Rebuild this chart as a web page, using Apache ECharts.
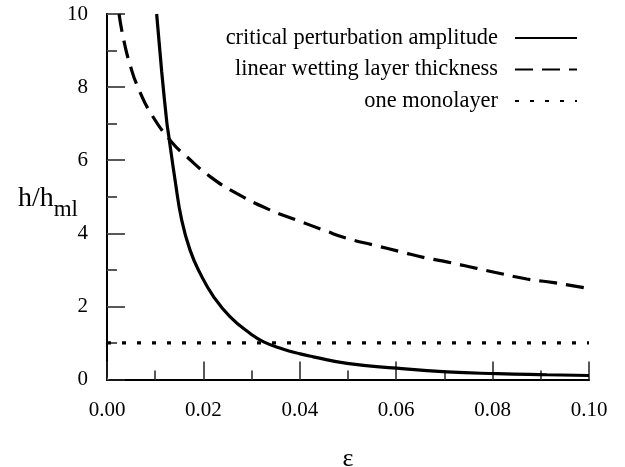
<!DOCTYPE html>
<html>
<head>
<meta charset="utf-8">
<script src="https://cdn.jsdelivr.net/npm/echarts@6/dist/echarts.min.js"></script>
<style>
html,body{margin:0;padding:0;background:#fff;}
#chart{width:625px;height:467px;}
</style>
</head>
<body>
<div id="chart"></div>
<script>
// Critical perturbation amplitude (solid)
const criticalEps = [0.0103, 0.01135, 0.0124, 0.01273, 0.01412, 0.0155, 0.01723, 0.0193, 0.0221, 0.0255, 0.0297, 0.0325, 0.0366, 0.0401, 0.0428, 0.0498, 0.0601, 0.0705, 0.0809, 0.0913, 0.1];
const criticalH   = [10, 8.42, 7.05, 6.74, 5.46, 4.36, 3.54, 2.91, 2.27, 1.72, 1.26, 1.03, 0.83, 0.70, 0.62, 0.44, 0.31, 0.21, 0.16, 0.13, 0.11];
// Linear wetting layer thickness (dashed)
const wettingEps = [0.0025, 0.0034, 0.0048, 0.0065, 0.0093, 0.0134, 0.0165, 0.0214, 0.0269, 0.0338, 0.0394, 0.0449, 0.0498, 0.0553, 0.0608, 0.0664, 0.0705, 0.0767, 0.0816, 0.0871, 0.0927, 0.1];
const wettingH   = [10.0, 9.33, 8.6, 7.97, 7.24, 6.5, 6.1, 5.55, 5.09, 4.64, 4.36, 4.09, 3.86, 3.68, 3.5, 3.32, 3.22, 3.04, 2.9, 2.75, 2.65, 2.49];
// One monolayer (dotted)
const monoEps = [0, 0.1];
const monoH   = [1, 1];

const seriesNames = ['critical perturbation amplitude', 'linear wetting layer thickness', 'one monolayer'];
const xTicks = [0, 0.02, 0.04, 0.06, 0.08, 0.10];
const yTicks = [0, 2, 4, 6, 8, 10];

const zip = (a, b) => a.map((v, i) => [v, b[i]]);
const FONT = '"Liberation Serif", "DejaVu Serif", serif';

const chart = echarts.init(document.getElementById('chart'));
chart.setOption({
  backgroundColor: '#fff',
  animation: false,
  textStyle: { fontFamily: FONT, color: '#000' },
  grid: { left: 107, right: 36, top: 14, bottom: 87.5, containLabel: false, outerBoundsMode: 'none' },
  legend: {
    orient: 'vertical',
    right: 42,
    top: 22,
    align: 'right',
    itemWidth: 62,
    itemHeight: 20,
    itemGap: 9.5,
    data: seriesNames,
    itemStyle: { color: 'rgba(0,0,0,0)', borderWidth: 0, opacity: 0 },
    textStyle: { fontFamily: FONT, fontSize: 22.4, color: '#000', padding: [0, 12, 0, 0] }
  },
  xAxis: [{
    type: 'value',
    min: xTicks[0], max: xTicks[xTicks.length - 1], interval: 0.02,
    name: 'ε', nameLocation: 'middle', nameGap: 67, nameMoveOverlap: false,
    nameTextStyle: { fontFamily: FONT, fontSize: 26, color: '#000' },
    axisLine: { lineStyle: { color: '#000', width: 2 } },
    axisTick: { show: true, inside: true, length: 18, lineStyle: { color: '#222', width: 1.5 } },
    minorTick: { show: true, splitNumber: 2, length: 9, lineStyle: { color: '#222', width: 1.5 } },
    axisLabel: { fontFamily: FONT, fontSize: 21, color: '#000', margin: 20, formatter: v => v.toFixed(2) },
    splitLine: { show: false }
  }, {
    type: 'value', position: 'top',
    min: xTicks[0], max: xTicks[xTicks.length - 1], interval: 0.01,
    axisLine: { lineStyle: { color: '#000', width: 2 } },
    axisTick: { show: true, inside: false, length: 2, lineStyle: { color: '#555', width: 1 } },
    axisLabel: { show: false }, splitLine: { show: false }
  }],
  yAxis: [{
    type: 'value',
    min: yTicks[0], max: yTicks[yTicks.length - 1], interval: 2,
    name: '{a|h/h}{b|ml}', nameLocation: 'middle', nameRotate: 0, nameGap: 29, nameMoveOverlap: false,
    nameTextStyle: {
      rich: {
        a: { fontFamily: FONT, fontSize: 28, color: '#000', verticalAlign: 'bottom', lineHeight: 32 },
        b: { fontFamily: FONT, fontSize: 23, color: '#000', verticalAlign: 'bottom', lineHeight: 18, padding: [0, 0, -9, 0] }
      }
    },
    axisLine: { lineStyle: { color: '#000', width: 2 } },
    axisTick: { show: true, inside: true, length: 18, lineStyle: { color: '#222', width: 1.5 } },
    minorTick: { show: true, splitNumber: 2, length: 10, lineStyle: { color: '#222', width: 1.5 } },
    axisLabel: { fontFamily: FONT, fontSize: 21, color: '#000', margin: 19 },
    splitLine: { show: false }
  }, {
    type: 'value', position: 'right',
    min: yTicks[0], max: yTicks[yTicks.length - 1], interval: 1,
    axisLine: { lineStyle: { color: '#000', width: 2 } },
    axisTick: { show: true, inside: false, length: 2, lineStyle: { color: '#555', width: 1 } },
    axisLabel: { show: false }, splitLine: { show: false }
  }],
  series: [{
    name: seriesNames[0], type: 'line', symbol: 'none',
    smooth: 0.5,
    data: zip(criticalEps, criticalH),
    lineStyle: { color: '#000', width: 3.2 },
    itemStyle: { color: '#000' }
  }, {
    name: seriesNames[1], type: 'line', symbol: 'none',
    smooth: 0.5,
    data: zip(wettingEps, wettingH),
    lineStyle: { color: '#000', width: 3.2, type: [18, 9] },
    itemStyle: { color: '#000' }
  }, {
    name: seriesNames[2], type: 'line', symbol: 'none',
    data: zip(monoEps, monoH),
    lineStyle: { color: '#000', width: 3.2, type: [4, 11] },
    itemStyle: { color: '#000' }
  }]
});
</script>
</body>
</html>
